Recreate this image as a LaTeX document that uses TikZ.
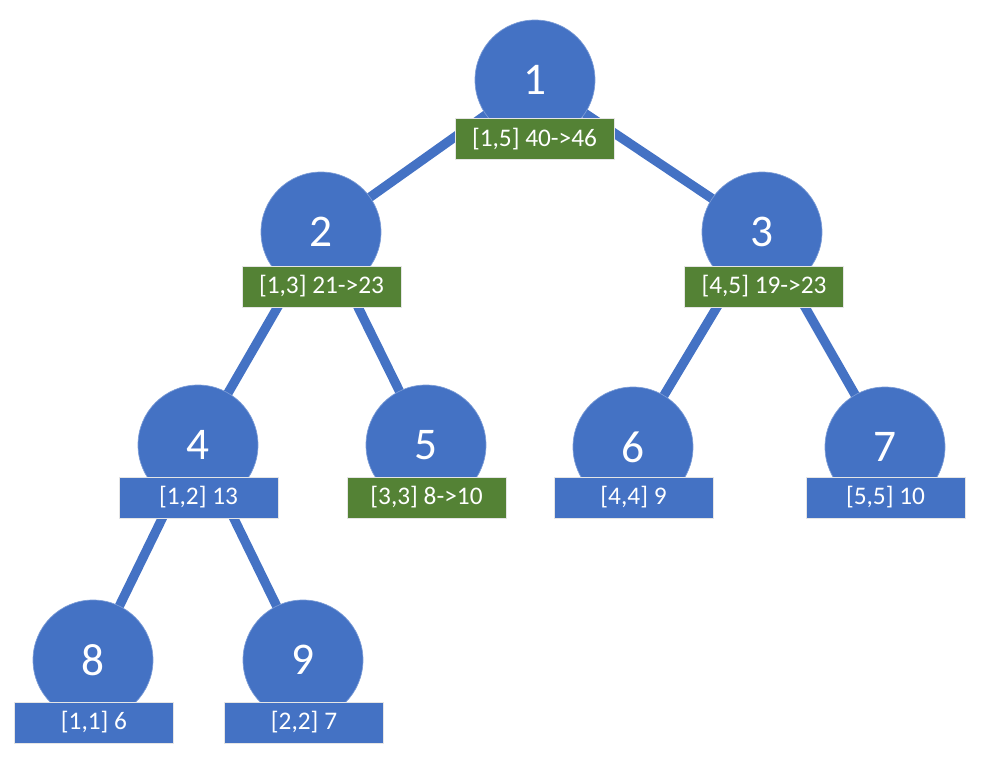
\documentclass[tikz,border=0pt]{standalone}
\usepackage{fontspec}
\setmainfont{Carlito}
\definecolor{nblue}{HTML}{4472C4}
\definecolor{ngreen}{HTML}{548235}
\begin{document}
\begin{tikzpicture}[x=0.75pt,y=-0.75pt,
  circ/.style={circle,fill=nblue,draw=nblue!70!white,line width=0.5pt,minimum size=90pt,inner sep=0pt,text=white,font=\fontsize{34}{34}\selectfont},
  lab/.style={rectangle,draw=white!80!gray,line width=0.5pt,minimum width=119pt,minimum height=31pt,inner sep=0pt,text=white,font=\fontsize{19}{19}\selectfont},
  gl/.style={lab,fill=ngreen},
  bl/.style={lab,fill=nblue},
  edge/.style={draw=nblue,line width=7pt}]
\useasboundingbox (0,0) rectangle (990,757);
\coordinate (c1) at (535,80);
\coordinate (c2) at (321,232);
\coordinate (c3) at (762,232);
\coordinate (c4) at (198,445);
\coordinate (c5) at (426,445);
\coordinate (c6) at (633,447);
\coordinate (c7) at (885,447);
\coordinate (c8) at (93,660);
\coordinate (c9) at (303,660);
\draw[edge] (c1) -- (c2);
\draw[edge] (c1) -- (c3);
\draw[edge] (c2) -- (c4);
\draw[edge] (c2) -- (c5);
\draw[edge] (c3) -- (c6);
\draw[edge] (c3) -- (c7);
\draw[edge] (c4) -- (c8);
\draw[edge] (c4) -- (c9);
\node[circ] (n1) at (c1) {1};
\node[circ] (n2) at (c2) {2};
\node[circ] (n3) at (c3) {3};
\node[circ] (n4) at (c4) {4};
\node[circ] (n5) at (c5) {5};
\node[circ] (n6) at (c6) {6};
\node[circ] (n7) at (c7) {7};
\node[circ] (n8) at (c8) {8};
\node[circ] (n9) at (c9) {9};
\node[gl] (l1) at (534.5,139) {[1,5] 40->46};
\node[gl] (l2) at (321.5,286.5) {[1,3] 21->23};
\node[gl] (l3) at (764,286.5) {[4,5] 19->23};
\node[bl] (l4) at (198.5,497.5) {[1,2] 13};
\node[gl] (l5) at (426.5,497.5) {[3,3] 8->10};
\node[bl] (l6) at (633.5,497.5) {[4,4] 9};
\node[bl] (l7) at (885.5,497.5) {[5,5] 10};
\node[bl] (l8) at (94,722.5) {[1,1] 6};
\node[bl] (l9) at (304,722.5) {[2,2] 7};
\end{tikzpicture}
\end{document}
